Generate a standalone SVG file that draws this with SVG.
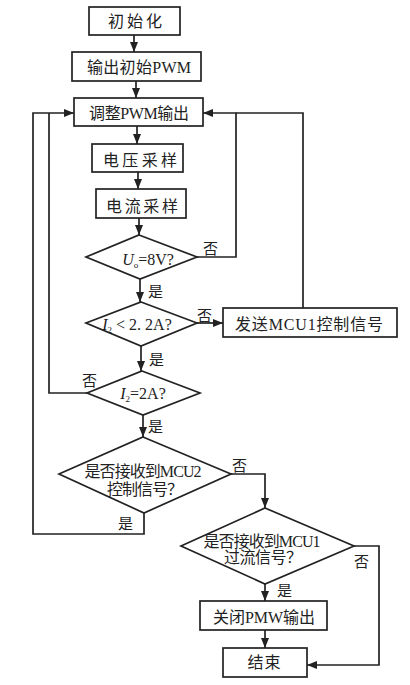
<svg xmlns="http://www.w3.org/2000/svg" width="410" height="685" viewBox="0 0 410 685">
<defs>
<style>
.b{fill:#fff;stroke:#222;stroke-width:1.7}
.l{fill:none;stroke:#222;stroke-width:1.7}
.t{font-family:"Liberation Serif","Noto Sans CJK SC",serif;font-size:16px;fill:#222;text-anchor:middle}
.s{font-family:"Liberation Serif","Noto Sans CJK SC",serif;font-size:15px;fill:#222}
.y{font-family:"Noto Sans CJK SC",sans-serif;font-size:15px;fill:#222}
</style>
<marker id="a" markerUnits="userSpaceOnUse" markerWidth="10" markerHeight="10" viewBox="0 0 10 10" refX="10" refY="5" orient="auto">
<path d="M0,1 L10,5 L0,9 Z" fill="#222"/>
</marker>
</defs>
<rect width="410" height="685" fill="#fff"/>
<g id="connectors">
<path class="l" d="M134,35 V52" marker-end="url(#a)"/>
<path class="l" d="M136,81 V98" marker-end="url(#a)"/>
<path class="l" d="M137,126 V144" marker-end="url(#a)"/>
<path class="l" d="M138,172 V189" marker-end="url(#a)"/>
<path class="l" d="M139,218 V235" marker-end="url(#a)"/>
<path class="l" d="M140,279 V302" marker-end="url(#a)"/>
<path class="l" d="M141,346 V371" marker-end="url(#a)"/>
<path class="l" d="M143,415 V437" marker-end="url(#a)"/>
<path class="l" d="M197,257 H236 V113 H203" marker-end="url(#a)"/>
<path class="l" d="M303,308 V113 H236"/>
<path class="l" d="M197,323 H223" marker-end="url(#a)"/>
<path class="l" d="M87,393 H49 V113"/>
<path class="l" d="M144,513 V534 H33 V113 H74" marker-end="url(#a)"/>
<path class="l" d="M231,474 H265 V508" marker-end="url(#a)"/>
<path class="l" d="M265,584 V601" marker-end="url(#a)"/>
<path class="l" d="M265,630 V648" marker-end="url(#a)"/>
<path class="l" d="M354,546 H379 V665 H307" marker-end="url(#a)"/>
<text class="y" x="203" y="254">否</text>
<text class="y" x="148" y="297">是</text>
<text class="y" x="197" y="321">否</text>
<text class="y" x="149" y="365">是</text>
<text class="y" x="82" y="386">否</text>
<text class="y" x="148" y="432">是</text>
<text class="y" x="232" y="471">否</text>
<text class="y" x="118" y="529">是</text>
<text class="y" x="354" y="567">否</text>
<text class="y" x="277" y="596">是</text>
</g>
<g id="n1"><rect class="b" x="89" y="7" width="91" height="28"/><text class="t" x="135" y="27" textLength="54" lengthAdjust="spacing">初始化</text></g>
<g id="n2"><rect class="b" x="72" y="52" width="129" height="29"/><text class="t" x="139" y="73" textLength="104" lengthAdjust="spacing">输出初始PWM</text></g>
<g id="n3"><rect class="b" x="74" y="98" width="129" height="28"/><text class="t" x="139" y="119" textLength="100" lengthAdjust="spacing">调整PWM输出</text></g>
<g id="n4"><rect class="b" x="92" y="144" width="91" height="28"/><text class="t" x="140" y="166" textLength="74" lengthAdjust="spacing">电压采样</text></g>
<g id="n5"><rect class="b" x="96" y="189" width="90" height="29"/><text class="t" x="142" y="212" textLength="72" lengthAdjust="spacing">电流采样</text></g>
<g id="n6"><polygon class="b" points="139,235 197,257 140,279 86,257"/><text class="t" x="148" y="265"><tspan font-style="italic">U</tspan><tspan font-size="9" dy="3">o</tspan><tspan dy="-3">=8V?</tspan></text></g>
<g id="n7"><polygon class="b" points="141,302 197,323 141,346 86,323"/><text class="t" x="137" y="330"><tspan font-style="italic">I</tspan><tspan font-size="9" dy="3">2</tspan><tspan dy="-3"> &lt; 2. 2A?</tspan></text></g>
<g id="n8"><rect class="b" x="223" y="308" width="174" height="29"/><text class="t" x="309" y="330" textLength="148" lengthAdjust="spacing">发送MCU1控制信号</text></g>
<g id="n9"><polygon class="b" points="142,371 200,393 143,415 87,393"/><text class="t" x="143" y="399"><tspan font-style="italic">I</tspan><tspan font-size="9" dy="3">2</tspan><tspan dy="-3">=2A?</tspan></text></g>
<g id="n10"><polygon class="b" points="143,437 231,474 144,513 59,474"/><text class="t" x="143" y="477" font-size="15" textLength="117" lengthAdjust="spacing">是否接收到MCU2</text><text class="t" x="145" y="495" font-size="15" textLength="76" lengthAdjust="spacing">控制信号？</text></g>
<g id="n11"><polygon class="b" points="265,508 354,546 265,584 181,546"/><text class="t" x="262" y="547" font-size="15" textLength="117" lengthAdjust="spacing">是否接收到MCU1</text><text class="t" x="263" y="563" font-size="15" textLength="78" lengthAdjust="spacing">过流信号？</text></g>
<g id="n12"><rect class="b" x="200" y="601" width="127" height="29"/><text class="t" x="264" y="623" textLength="102" lengthAdjust="spacing">关闭PMW输出</text></g>
<g id="n13"><rect class="b" x="223" y="648" width="84" height="29"/><text class="t" x="264" y="668" textLength="33" lengthAdjust="spacing">结束</text></g>
</svg>
